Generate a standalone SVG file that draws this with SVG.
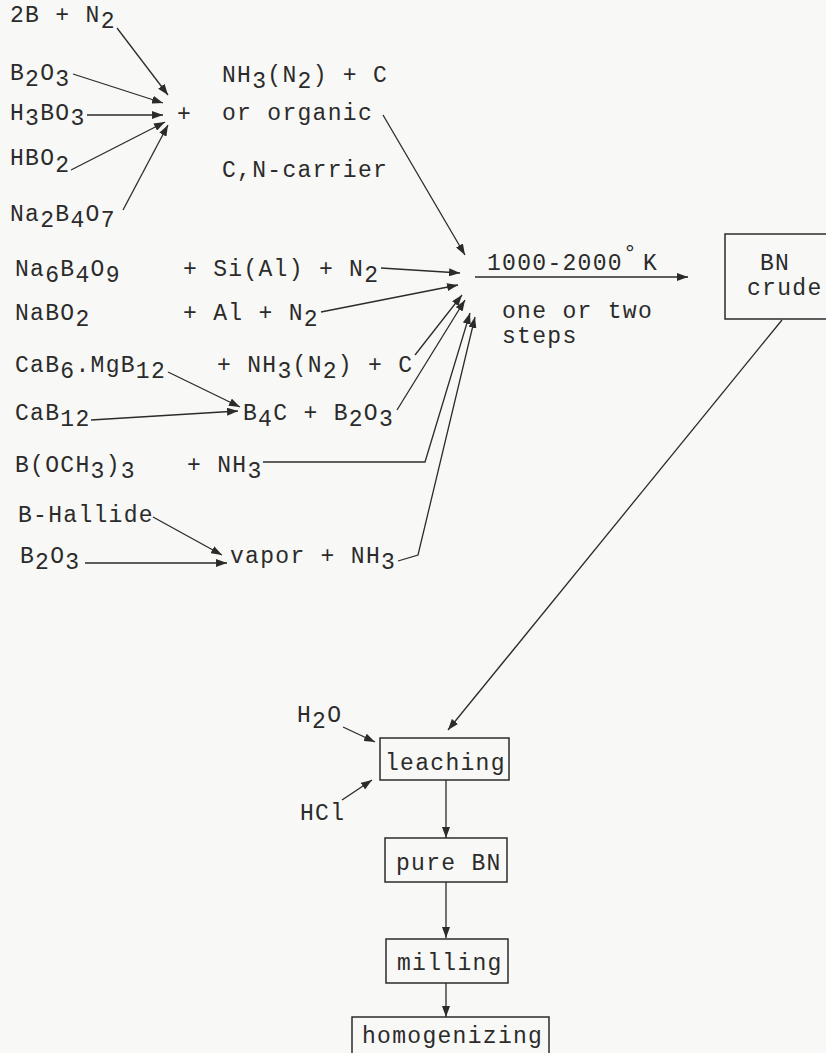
<svg xmlns="http://www.w3.org/2000/svg" width="826" height="1053" viewBox="0 0 826 1053">
<style>
text{font-family:"Liberation Mono","DejaVu Sans Mono",monospace;font-size:23px;letter-spacing:1.3px;fill:#2b2b2b}
.c line,.c polyline{stroke:#2b2b2b;stroke-width:1.3;fill:none;marker-end:url(#ah)}
.box{fill:none;stroke:#2b2b2b;stroke-width:1.5}
</style>
<defs>
<marker id="ah" markerUnits="userSpaceOnUse" markerWidth="11" markerHeight="8" refX="11" refY="4" orient="auto">
<path d="M0,0 L11,4 L0,8 z" fill="#2b2b2b"/>
</marker>
</defs>
<rect width="826" height="1053" fill="#f8f8f6"/>
<g id="n-2bn2"><text x="10" y="22">2B + N<tspan dy="6">2</tspan></text></g>
<g id="n-b2o3a"><text x="10" y="80">B<tspan dy="6">2</tspan><tspan dy="-6">O</tspan><tspan dy="6">3</tspan></text></g>
<g id="n-h3bo3"><text x="10" y="120">H<tspan dy="5">3</tspan><tspan dy="-5">BO</tspan><tspan dy="5">3</tspan></text></g>
<g id="n-hbo2"><text x="10" y="165">HBO<tspan dy="7">2</tspan></text></g>
<g id="n-na2b4o7"><text x="10" y="221">Na<tspan dy="6">2</tspan><tspan dy="-6">B</tspan><tspan dy="6">4</tspan><tspan dy="-6">O</tspan><tspan dy="6">7</tspan></text></g>
<g id="n-plus"><text x="177" y="121">+</text></g>
<g id="n-carrier">
<text x="222" y="82">NH<tspan dy="6">3</tspan><tspan dy="-6">(N</tspan><tspan dy="6">2</tspan><tspan dy="-6">) + C</tspan></text>
<text x="222" y="120">or organic</text>
<text x="222" y="177">C,N-carrier</text>
</g>
<g id="n-na6b4o9">
<text x="15" y="276">Na<tspan dy="6">6</tspan><tspan dy="-6">B</tspan><tspan dy="6">4</tspan><tspan dy="-6">O</tspan><tspan dy="6">9</tspan></text>
<text x="183" y="276">+ Si(Al) + N<tspan dy="6">2</tspan></text>
</g>
<g id="n-nabo2">
<text x="15" y="320">NaBO<tspan dy="6">2</tspan></text>
<text x="183" y="320">+ Al + N<tspan dy="6">2</tspan></text>
</g>
<g id="n-cab6">
<text x="15" y="372">CaB<tspan dy="6">6</tspan><tspan dy="-6">.MgB</tspan><tspan dy="6">12</tspan></text>
<text x="217" y="372">+ NH<tspan dy="6">3</tspan><tspan dy="-6">(N</tspan><tspan dy="6">2</tspan><tspan dy="-6">) + C</tspan></text>
</g>
<g id="n-cab12"><text x="15" y="420">CaB<tspan dy="6">12</tspan></text></g>
<g id="n-b4c"><text x="243" y="420">B<tspan dy="6">4</tspan><tspan dy="-6">C + B</tspan><tspan dy="6">2</tspan><tspan dy="-6">O</tspan><tspan dy="6">3</tspan></text></g>
<g id="n-boch3">
<text x="15" y="472">B(OCH<tspan dy="6">3</tspan><tspan dy="-6">)</tspan><tspan dy="6">3</tspan></text>
<text x="187" y="472">+ NH<tspan dy="6">3</tspan></text>
</g>
<g id="n-bhallide"><text x="18" y="522">B-Hallide</text></g>
<g id="n-b2o3b"><text x="20" y="563">B<tspan dy="6">2</tspan><tspan dy="-6">O</tspan><tspan dy="6">3</tspan></text></g>
<g id="n-vapor"><text x="230" y="563">vapor + NH<tspan dy="6">3</tspan></text></g>
<g id="n-reaction">
<text x="487" y="270">1000-2000<tspan dy="-9">°</tspan><tspan x="643" dy="9">K</tspan></text>
<text x="502" y="318">one or two</text>
<text x="502" y="343">steps</text>
</g>
<g id="n-bncrude">
<rect class="box" x="725" y="234" width="120" height="85"/>
<text x="760" y="270">BN</text>
<text x="747" y="295">crude</text>
</g>
<g id="n-h2o"><text x="297" y="722">H<tspan dy="6">2</tspan><tspan dy="-6">O</tspan></text></g>
<g id="n-hcl"><text x="300" y="820">HCl</text></g>
<g id="n-leaching">
<rect class="box" x="380" y="738" width="129" height="42"/>
<text x="385" y="770">leaching</text>
</g>
<g id="n-purebn">
<rect class="box" x="385" y="838" width="122" height="44"/>
<text x="396" y="870">pure BN</text>
</g>
<g id="n-milling">
<rect class="box" x="386" y="939" width="122" height="44"/>
<text x="397" y="970">milling</text>
</g>
<g id="n-homog">
<rect class="box" x="352" y="1017" width="197" height="50"/>
<text x="362" y="1043">homogenizing</text>
</g>
<g id="connectors" class="c">
<line x1="117" y1="28" x2="168" y2="95"/>
<line x1="73" y1="74" x2="163" y2="103"/>
<line x1="87" y1="115" x2="163" y2="115"/>
<line x1="71" y1="170" x2="165" y2="122"/>
<line x1="123" y1="210" x2="168" y2="125"/>
<line x1="383" y1="115" x2="465" y2="255"/>
<line x1="381" y1="268" x2="460" y2="273"/>
<line x1="321" y1="312" x2="458" y2="285"/>
<line x1="415" y1="355" x2="462" y2="295"/>
<line x1="397" y1="410" x2="465" y2="300"/>
<polyline points="263,462 425,462 470,313"/>
<polyline points="398,561 418,555 475,317"/>
<line x1="168" y1="372" x2="240" y2="407"/>
<line x1="91" y1="420" x2="238" y2="411"/>
<line x1="153" y1="517" x2="222" y2="555"/>
<line x1="85" y1="563" x2="227" y2="563"/>
<line x1="475" y1="277" x2="688" y2="277"/>
<line x1="782" y1="320" x2="448" y2="730"/>
<line x1="343" y1="727" x2="375" y2="742"/>
<line x1="342" y1="800" x2="372" y2="780"/>
<line x1="446" y1="780" x2="446" y2="838"/>
<line x1="446" y1="882" x2="446" y2="938"/>
<line x1="446" y1="983" x2="446" y2="1017"/>
</g>
</svg>
